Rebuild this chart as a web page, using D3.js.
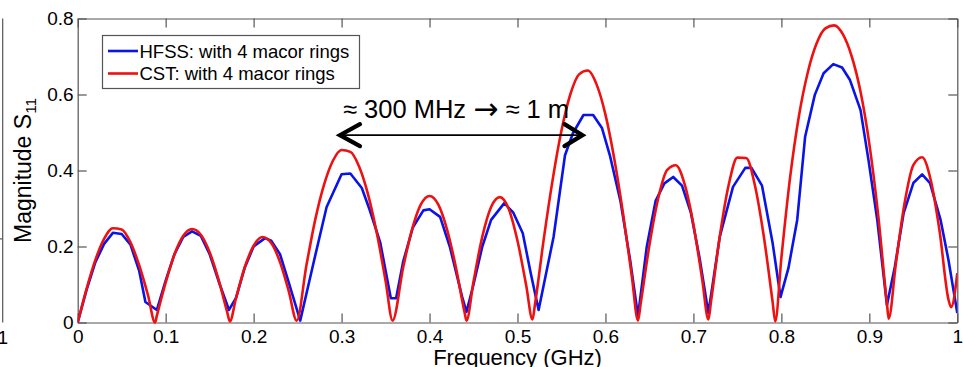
<!DOCTYPE html>
<html>
<head>
<meta charset="utf-8">
<script src="https://cdn.jsdelivr.net/npm/d3@7"></script>
<style>
  html, body { margin: 0; padding: 0; background: #fff; }
  svg { display: block; }
  text { font-family: "Liberation Sans", Arial, Helvetica, sans-serif; fill: #000; }
</style>
</head>
<body>
<svg id="chart" width="963" height="367"></svg>
<script>
// ---------------- data ----------------
const freqCST = [0,0.01,0.02,0.03,0.04,0.05,0.06,0.07,0.08,0.088,
  0.09,0.10,0.11,0.12,0.13,0.14,0.15,0.16,0.17,0.173,
  0.18,0.19,0.20,0.21,0.22,0.23,0.24,0.249,
  0.26,0.27,0.28,0.29,0.30,0.31,0.32,0.33,0.34,0.35,0.358,
  0.37,0.38,0.39,0.40,0.41,0.42,0.43,0.44,0.442,
  0.45,0.46,0.47,0.48,0.49,0.50,0.51,0.517,
  0.52,0.53,0.54,0.55,0.56,0.57,0.58,0.59,0.60,0.61,0.62,0.63,0.637,
  0.64,0.65,0.66,0.67,0.68,0.69,0.70,0.71,0.717,
  0.72,0.73,0.74,0.75,0.76,0.77,0.78,0.79,0.793,
  0.80,0.81,0.82,0.83,0.84,0.85,0.86,0.87,0.88,0.89,0.90,0.91,0.92,0.922,
  0.93,0.94,0.95,0.96,0.97,0.98,0.99,0.993,1.0];
const s11CST = [0,0.088,0.164,0.22,0.248,0.245,0.211,0.15,0.071,0.0,
  0.018,0.105,0.179,0.228,0.246,0.231,0.185,0.114,0.027,0.003,
  0.064,0.146,0.202,0.225,0.209,0.159,0.082,0.005,
  0.15,0.27,0.362,0.425,0.454,0.449,0.41,0.338,0.236,0.11,0.005,
  0.145,0.244,0.31,0.333,0.31,0.244,0.145,0.025,0.005,
  0.108,0.226,0.304,0.33,0.299,0.215,0.096,0.008,
  0.05,0.222,0.376,0.505,0.6,0.653,0.663,0.626,0.547,0.431,0.287,0.121,0.005,
  0.049,0.204,0.327,0.401,0.414,0.364,0.258,0.113,0.008,
  0.055,0.227,0.361,0.434,0.433,0.36,0.227,0.055,0.003,
  0.17,0.383,0.544,0.658,0.734,0.774,0.782,0.758,0.70,0.607,0.47,0.284,0.05,0.01,
  0.152,0.313,0.414,0.435,0.373,0.238,0.06,0.04,0.13];

const freqHFSS = [0,0.01,0.02,0.03,0.04,0.05,0.06,0.07,0.077,0.09,
  0.10,0.11,0.12,0.13,0.14,0.15,0.16,0.172,
  0.18,0.19,0.20,0.213,0.22,0.23,0.24,0.253,
  0.268,0.283,0.30,0.31,0.323,0.332,0.344,0.356,0.362,
  0.37,0.381,0.393,0.40,0.412,0.423,0.437,0.442,
  0.45,0.46,0.47,0.485,0.495,0.506,0.515,0.524,
  0.541,0.554,0.563,0.575,0.586,0.596,0.605,0.617,0.628,0.637,
  0.647,0.657,0.667,0.677,0.687,0.697,0.707,0.717,
  0.73,0.745,0.759,0.766,0.778,0.79,0.799,
  0.808,0.818,0.827,0.838,0.848,0.859,0.869,0.878,0.89,0.899,0.909,0.92,
  0.929,0.939,0.95,0.96,0.969,0.981,0.99,1.0];
const s11HFSS = [0,0.085,0.158,0.207,0.236,0.233,0.205,0.135,0.054,0.033,
  0.11,0.18,0.225,0.24,0.228,0.18,0.11,0.033,
  0.065,0.145,0.2,0.222,0.215,0.18,0.105,0.005,
  0.156,0.304,0.39,0.392,0.354,0.296,0.21,0.064,0.064,
  0.16,0.25,0.295,0.298,0.278,0.2,0.068,0.028,
  0.1,0.2,0.27,0.314,0.29,0.235,0.13,0.033,
  0.225,0.44,0.498,0.546,0.546,0.512,0.44,0.32,0.165,0.017,
  0.2,0.32,0.366,0.383,0.36,0.29,0.17,0.025,
  0.226,0.357,0.407,0.407,0.36,0.21,0.067,
  0.143,0.27,0.489,0.599,0.656,0.68,0.671,0.638,0.559,0.428,0.27,0.046,
  0.147,0.288,0.367,0.39,0.367,0.27,0.164,0.025];

const xTicks = [0,0.1,0.2,0.3,0.4,0.5,0.6,0.7,0.8,0.9,1];
const xTickLabels = ["0","0.1","0.2","0.3","0.4","0.5","0.6","0.7","0.8","0.9","1"];
const yTicks = [0,0.2,0.4,0.6,0.8];
const yTickLabels = ["0","0.2","0.4","0.6","0.8"];
const seriesNames = ["HFSS: with 4 macor rings","CST: with 4 macor rings"];
const seriesColors = ["#0a14e6","#ee1111"];
const annotationParts = ["\u2248 300 MHz ", "\u2192", " \u2248 1 m"];
const annotationSpan = [0.297, 0.575];   // GHz
const annotationLevel = 0.493;           // S11 level of arrow

// ---------------- layout ----------------
const svg = d3.select("#chart");
const W = 963, H = 367;
const L = 77.7, R = 957.3, T = 18.5, B = 322.5;
svg.append("rect").attr("width", W).attr("height", H).attr("fill", "#fff");

const x = d3.scaleLinear().domain([0, 1]).range([L, R]);
const y = d3.scaleLinear().domain([0, 0.8]).range([B, T]);

const axisColor = "#555";

// fragment of neighbouring plot at the far left
const frag = svg.append("g");
frag.append("line").attr("x1", 2.7).attr("x2", 2.7).attr("y1", T).attr("y2", B)
  .attr("stroke", axisColor).attr("stroke-width", 1.2);
frag.append("line").attr("x1", 0).attr("x2", 2.7).attr("y1", y(0.22)).attr("y2", y(0.22))
  .attr("stroke", axisColor).attr("stroke-width", 1.2);
frag.append("text").attr("x", 2.7).attr("y", 344).attr("text-anchor", "middle")
  .style("font-size", "19px").text("1");

// axes
function styleAxis(g) {
  g.selectAll("path.domain").attr("stroke", axisColor).attr("stroke-width", 1.2);
  g.selectAll(".tick line").attr("stroke", axisColor).attr("stroke-width", 1.2);
  g.selectAll(".tick text").style("font-size", "19px").attr("fill", "#000")
    .style("font-family", '"Liberation Sans", Arial, sans-serif');
}
const gx = svg.append("g").attr("transform", `translate(0,${B})`)
  .call(d3.axisBottom(x).tickValues(xTicks).tickFormat((d, i) => xTickLabels[i])
    .tickSizeInner(-9).tickSizeOuter(0).tickPadding(7));
styleAxis(gx);
const gxt = svg.append("g").attr("transform", `translate(0,${T})`)
  .call(d3.axisTop(x).tickValues(xTicks).tickFormat("").tickSizeInner(-9).tickSizeOuter(0));
styleAxis(gxt);
const gy = svg.append("g").attr("transform", `translate(${L},0)`)
  .call(d3.axisLeft(y).tickValues(yTicks).tickFormat((d, i) => yTickLabels[i])
    .tickSizeInner(-9).tickSizeOuter(0).tickPadding(4));
styleAxis(gy);
const gyr = svg.append("g").attr("transform", `translate(${R},0)`)
  .call(d3.axisRight(y).tickValues(yTicks).tickFormat("").tickSizeInner(-9).tickSizeOuter(0));
styleAxis(gyr);

// axis titles
svg.append("text").attr("x", (L + R) / 2).attr("y", 364.5).attr("text-anchor", "middle")
  .style("font-size", "22px").text("Frequency (GHz)");
const yl = svg.append("text").attr("transform", "translate(31,243) rotate(-90)")
  .attr("text-anchor", "start").style("font-size", "23px");
yl.append("tspan").text("Magnitude S");
yl.append("tspan").attr("dy", "0.32em").style("font-size", "15.5px").text("11");

// lines
svg.append("clipPath").attr("id", "plotclip").append("rect")
  .attr("x", L).attr("y", T - 2).attr("width", R - L).attr("height", B - T + 4);
const lineLinear = d3.line().x(d => x(d[0])).y(d => y(d[1]));
const lineSmooth = d3.line().x(d => x(d[0])).y(d => y(d[1])).curve(d3.curveMonotoneX);
const hfss = freqHFSS.map((f, i) => [f, s11HFSS[i]]);
const cst = freqCST.map((f, i) => [f, s11CST[i]]);
const plot = svg.append("g").attr("clip-path", "url(#plotclip)");
plot.append("path").datum(hfss).attr("d", lineLinear).attr("fill", "none")
  .attr("stroke", seriesColors[0]).attr("stroke-width", 2.6).attr("stroke-linejoin", "round");
plot.append("path").datum(cst).attr("d", lineSmooth).attr("fill", "none")
  .attr("stroke", seriesColors[1]).attr("stroke-width", 2.6).attr("stroke-linejoin", "round");

// legend
const lg = svg.append("g");
lg.append("rect").attr("x", 102.5).attr("y", 35.5).attr("width", 257).attr("height", 53)
  .attr("fill", "#fff").attr("stroke", axisColor).attr("stroke-width", 1.2);
seriesNames.forEach((name, i) => {
  const yy = 51 + i * 22.5;
  lg.append("line").attr("x1", 108).attr("x2", 138).attr("y1", yy).attr("y2", yy)
    .attr("stroke", seriesColors[i]).attr("stroke-width", 2.6);
  lg.append("text").attr("x", 139.5).attr("y", yy + 6.5).style("font-size", "18.5px").text(name);
});

// annotation
const ay = y(annotationLevel);
const ax1 = x(annotationSpan[0]), ax2 = x(annotationSpan[1]);
svg.append("line").attr("x1", ax1 + 2).attr("x2", ax2 - 2).attr("y1", ay).attr("y2", ay)
  .attr("stroke", "#000").attr("stroke-width", 1.6);
svg.append("path")
  .attr("d", `M${ax1 + 21},${ay - 11} L${ax1 + 1},${ay} L${ax1 + 21},${ay + 11}`)
  .attr("fill", "none").attr("stroke", "#000").attr("stroke-width", 4.2)
  .attr("stroke-linecap", "round").attr("stroke-linejoin", "miter");
svg.append("path")
  .attr("d", `M${ax2 - 19},${ay - 11} L${ax2 - 1},${ay} L${ax2 - 19},${ay + 11}`)
  .attr("fill", "none").attr("stroke", "#000").attr("stroke-width", 4.2)
  .attr("stroke-linecap", "round").attr("stroke-linejoin", "miter");
const at = svg.append("text").attr("x", 343).attr("y", 118).style("font-size", "25.5px");
at.append("tspan").text(annotationParts[0]);
at.append("tspan").style("font-family", '"DejaVu Sans", sans-serif').style("font-size", "30px")
  .attr("dy", "1").text(annotationParts[1]);
at.append("tspan").attr("dy", "-1").text(annotationParts[2]);
</script>
</body>
</html>
